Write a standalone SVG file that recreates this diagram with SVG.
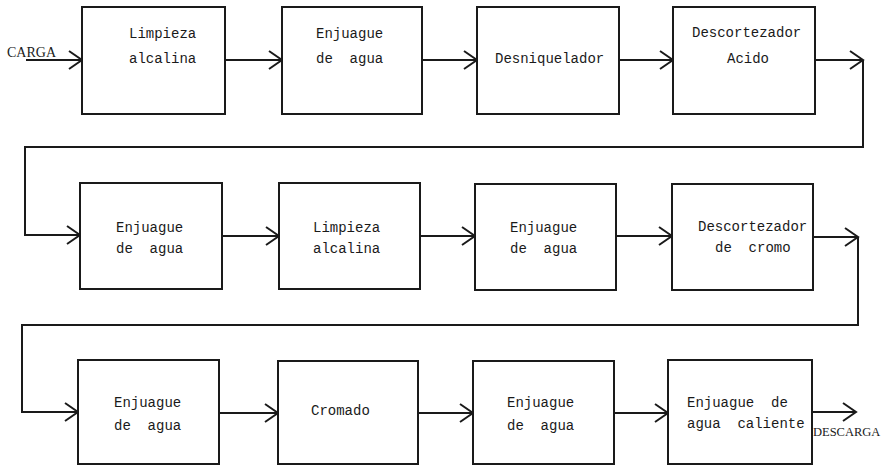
<svg xmlns="http://www.w3.org/2000/svg" width="885" height="466" viewBox="0 0 885 466">
<style>
.box{fill:#fff;stroke:#1a1a1a;stroke-width:2}
.t{font-family:"Liberation Mono","Courier New",monospace;font-size:14px;fill:#1a1a1a;white-space:pre}
.lbl{font-family:"Liberation Serif","Times New Roman",serif;font-size:14px;fill:#1a1a1a}
.c{fill:none;stroke:#1a1a1a;stroke-width:2}
</style>
<defs>
<marker id="ah" markerUnits="userSpaceOnUse" markerWidth="16" markerHeight="22" viewBox="-1 -1 16 22" refX="13" refY="9" orient="auto">
<path d="M0,0 L13,9 L0,18" fill="none" stroke="#1a1a1a" stroke-width="2"/>
</marker>
</defs>
<rect width="885" height="466" fill="#fff"/>
<g id="connectors">
<line class="c" x1="26" y1="60" x2="82" y2="60" marker-end="url(#ah)"/>
<line class="c" x1="225" y1="60" x2="282" y2="60" marker-end="url(#ah)"/>
<line class="c" x1="422" y1="60" x2="477" y2="60" marker-end="url(#ah)"/>
<line class="c" x1="619" y1="60" x2="673" y2="60" marker-end="url(#ah)"/>
<line class="c" x1="815" y1="60" x2="863" y2="60" marker-end="url(#ah)"/>
<polyline class="c" points="863,60 863,147 25,147 25,235 80,235" marker-end="url(#ah)"/>
<line class="c" x1="222" y1="236" x2="279" y2="236" marker-end="url(#ah)"/>
<line class="c" x1="420" y1="236" x2="475" y2="236" marker-end="url(#ah)"/>
<line class="c" x1="616" y1="236" x2="672" y2="236" marker-end="url(#ah)"/>
<line class="c" x1="813" y1="237" x2="858" y2="237" marker-end="url(#ah)"/>
<polyline class="c" points="858,237 858,325 22,325 22,412 78,412" marker-end="url(#ah)"/>
<line class="c" x1="219" y1="413" x2="278" y2="413" marker-end="url(#ah)"/>
<line class="c" x1="418" y1="413" x2="473" y2="413" marker-end="url(#ah)"/>
<line class="c" x1="614" y1="413" x2="668" y2="413" marker-end="url(#ah)"/>
<line class="c" x1="812" y1="412" x2="856" y2="412" marker-end="url(#ah)"/>
<text class="lbl" x="7" y="57">CARGA</text>
<text class="lbl" x="813" y="436" style="font-size:12.5px">DESCARGA</text>
</g>
<g id="n1"><rect class="box" x="82" y="7" width="143" height="107"/><text class="t" x="129" y="38">Limpieza</text><text class="t" x="129" y="63">alcalina</text></g>
<g id="n2"><rect class="box" x="282" y="7" width="140" height="107"/><text class="t" x="316" y="38">Enjuague</text><text class="t" x="316" y="63">de  agua</text></g>
<g id="n3"><rect class="box" x="477" y="7" width="142" height="107"/><text class="t" x="495" y="63">Desniquelador</text></g>
<g id="n4"><rect class="box" x="673" y="7" width="142" height="107"/><text class="t" x="692" y="37">Descortezador</text><text class="t" x="727" y="63">Acido</text></g>
<g id="n5"><rect class="box" x="80" y="183" width="142" height="106"/><text class="t" x="116" y="232">Enjuague</text><text class="t" x="116" y="253">de  agua</text></g>
<g id="n6"><rect class="box" x="279" y="183" width="141" height="106"/><text class="t" x="313" y="232">Limpieza</text><text class="t" x="313" y="253">alcalina</text></g>
<g id="n7"><rect class="box" x="475" y="184" width="141" height="106"/><text class="t" x="510" y="232">Enjuague</text><text class="t" x="510" y="253">de  agua</text></g>
<g id="n8"><rect class="box" x="672" y="184" width="141" height="106"/><text class="t" x="698" y="231">Descortezador</text><text class="t" x="715" y="252">de  cromo</text></g>
<g id="n9"><rect class="box" x="78" y="360" width="141" height="104"/><text class="t" x="114" y="407">Enjuague</text><text class="t" x="114" y="430">de  agua</text></g>
<g id="n10"><rect class="box" x="278" y="361" width="140" height="103"/><text class="t" x="311" y="415">Cromado</text></g>
<g id="n11"><rect class="box" x="473" y="361" width="141" height="103"/><text class="t" x="507" y="407">Enjuague</text><text class="t" x="507" y="430">de  agua</text></g>
<g id="n12"><rect class="box" x="668" y="360" width="144" height="104"/><text class="t" x="687" y="407">Enjuague  de</text><text class="t" x="687" y="428">agua  caliente</text></g>
</svg>
